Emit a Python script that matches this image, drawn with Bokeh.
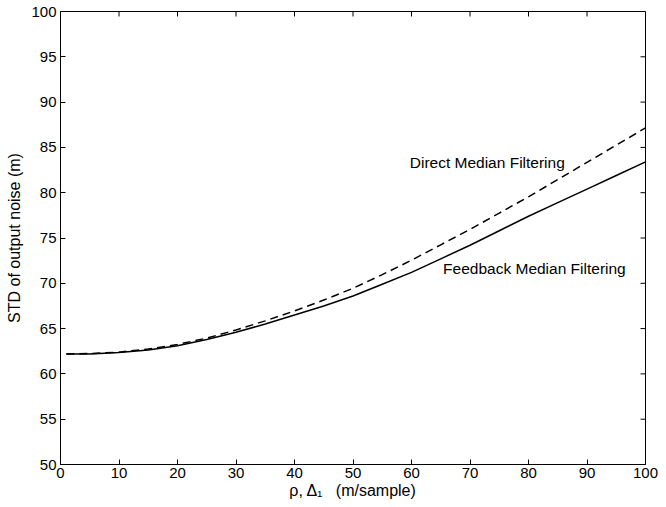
import math
from bokeh.plotting import figure
from bokeh.models import Range1d, FixedTicker, Label
from bokeh.embed import file_html
from bokeh.resources import INLINE

# data
x_vals = [1, 5, 10, 15, 20, 25, 30, 35, 40, 45, 50, 55, 60, 65, 70, 75, 80, 85, 90, 95, 100]
feedback = [62.2, 62.2, 62.35, 62.65, 63.1, 63.8, 64.6, 65.5, 66.5, 67.5, 68.6, 69.9,
            71.2, 72.7, 74.2, 75.8, 77.4, 78.9, 80.4, 81.9, 83.4]
direct = [62.2, 62.25, 62.4, 62.75, 63.25, 63.95, 64.85, 65.85, 66.95, 68.15, 69.45, 70.95,
          72.55, 74.25, 75.95, 77.75, 79.55, 81.45, 83.35, 85.25, 87.15]
x_ticks = [0, 10, 20, 30, 40, 50, 60, 70, 80, 90, 100]
y_ticks = [50, 55, 60, 65, 70, 75, 80, 85, 90, 95, 100]

FONT = "Liberation Sans"
X_MIN, X_MAX, Y_MIN, Y_MAX = 0, 100, 50, 100

p = figure(width=666, height=507, output_backend="svg", toolbar_location=None,
           x_range=Range1d(X_MIN, X_MAX), y_range=Range1d(Y_MIN, Y_MAX),
           min_border_left=60, min_border_right=21, min_border_top=11, min_border_bottom=43,
           x_axis_label="\u03c1, \u0394\u2081\u00a0\u00a0\u00a0(m/sample)",
           y_axis_label="STD of output noise (m)")
p.grid.visible = False
p.outline_line_color = "black"
p.outline_line_width = 1
p.background_fill_color = "white"
p.border_fill_color = "white"

p.line(x_vals, feedback, line_color="black", line_width=1.5)
p.line(x_vals, direct, line_color="black", line_width=1.5, line_dash="8 5")

for ax, ticks in ((p.xaxis[0], x_ticks), (p.yaxis[0], y_ticks)):
    ax.ticker = FixedTicker(ticks=ticks)
    ax.major_tick_in = 5
    ax.major_tick_out = 0
    ax.minor_tick_line_color = None
    ax.axis_line_color = "black"
    ax.major_tick_line_color = "black"
    ax.major_label_text_font = FONT
    ax.major_label_text_font_size = "15px"
    ax.major_label_text_color = "black"
    ax.axis_label_text_font = FONT
    ax.axis_label_text_font_size = "16px"
    ax.axis_label_text_font_style = "normal"
    ax.axis_label_text_color = "black"

p.xaxis[0].major_label_standoff = 3
p.xaxis[0].axis_label_standoff = 1
p.yaxis[0].major_label_standoff = 4
p.yaxis[0].axis_label_standoff = 5

# box ticks on the top and right edges (inward), drawn from the same tick lists
p.ray(x=x_ticks, y=[Y_MAX] * len(x_ticks), length=5, length_units="screen",
      angle=-math.pi / 2, line_color="black", line_width=1)
p.ray(x=[X_MAX] * len(y_ticks), y=y_ticks, length=5, length_units="screen",
      angle=math.pi, line_color="black", line_width=1)

p.add_layout(Label(x=59.7, y=83.3, text="Direct Median Filtering", text_font=FONT,
                   text_font_size="15.5px", text_baseline="middle", text_color="black"))
p.add_layout(Label(x=65.4, y=71.6, text="Feedback Median Filtering", text_font=FONT,
                   text_font_size="15.5px", text_baseline="middle", text_color="black"))

open("out.html", "w").write(file_html(p, INLINE))
